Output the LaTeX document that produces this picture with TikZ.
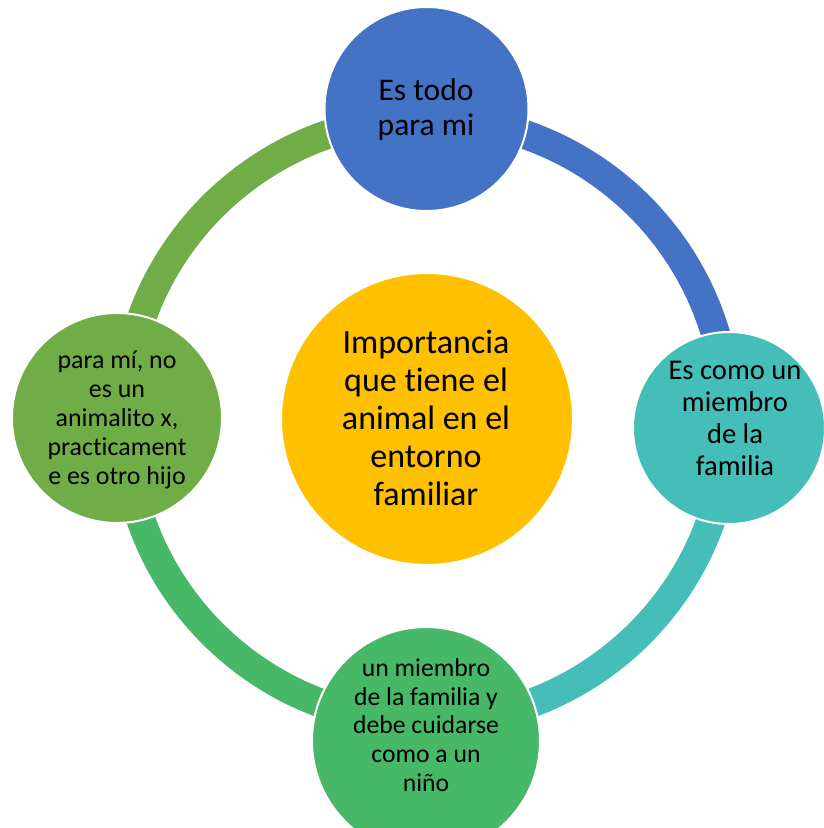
\documentclass[tikz,border=0pt]{standalone}
\usepackage{fontspec}
\setmainfont{Carlito}[Ligatures={NoCommon}]
\definecolor{cblue}{HTML}{4472C4}
\definecolor{cteal}{HTML}{45BEB9}
\definecolor{cgreen}{HTML}{47B768}
\definecolor{colive}{HTML}{71AD47}
\definecolor{cgold}{HTML}{FFC000}
\begin{document}
\begin{tikzpicture}[x=1pt,y=1pt,
  ringarc/.style={line width=29pt},
  bubble/.style={circle,draw=white,line width=2pt,inner sep=0pt},
  label/.style={align=center,text=black,inner sep=0pt}]
\useasboundingbox (0,0) rectangle (823,-828);
\coordinate (c) at (426,-420);
% ring
\draw[ringarc,cblue] ([shift={(0:302)}]c) arc[start angle=0,end angle=90,radius=302];
\draw[ringarc,cteal] ([shift={(-90:302)}]c) arc[start angle=-90,end angle=0,radius=302];
\draw[ringarc,cgreen] ([shift={(180:302)}]c) arc[start angle=180,end angle=270,radius=302];
\draw[ringarc,colive] ([shift={(90:302)}]c) arc[start angle=90,end angle=180,radius=302];
% circles
\node[bubble,fill=cgold,minimum size=292pt] (mid) at (427,-419) {};
\node[bubble,fill=cblue,minimum size=204pt] (top) at (426.5,-109) {};
\node[bubble,fill=cteal,minimum size=192pt] (right) at (729,-428) {};
\node[bubble,fill=cgreen,minimum size=228pt] (bottom) at (426,-741) {};
\node[bubble,fill=colive,minimum size=210pt] (left) at (117,-418) {};
% texts
\node[label,font=\fontsize{34}{38}\selectfont] (tmid) at (426,-418) {Importancia\\que tiene el\\animal en el\\entorno\\familiar};
\node[label,font=\fontsize{31.5}{35}\selectfont] (ttop) at (426,-110) {Es todo\\para mi};
\node[label,font=\fontsize{28.6}{32}\selectfont] (tright) at (735,-418) {Es como un\\miembro\\de la\\familia};
\node[label,font=\fontsize{25.7}{28.7}\selectfont] (tbottom) at (426,-725) {un miembro\\de la familia y\\debe cuidarse\\como a un\\niño};
\node[label,font=\fontsize{25.9}{29}\selectfont] (tleft) at (117,-420) {para mí, no\\es un\\animalito x,\\practicament\\e es otro hijo};
\end{tikzpicture}
\end{document}
